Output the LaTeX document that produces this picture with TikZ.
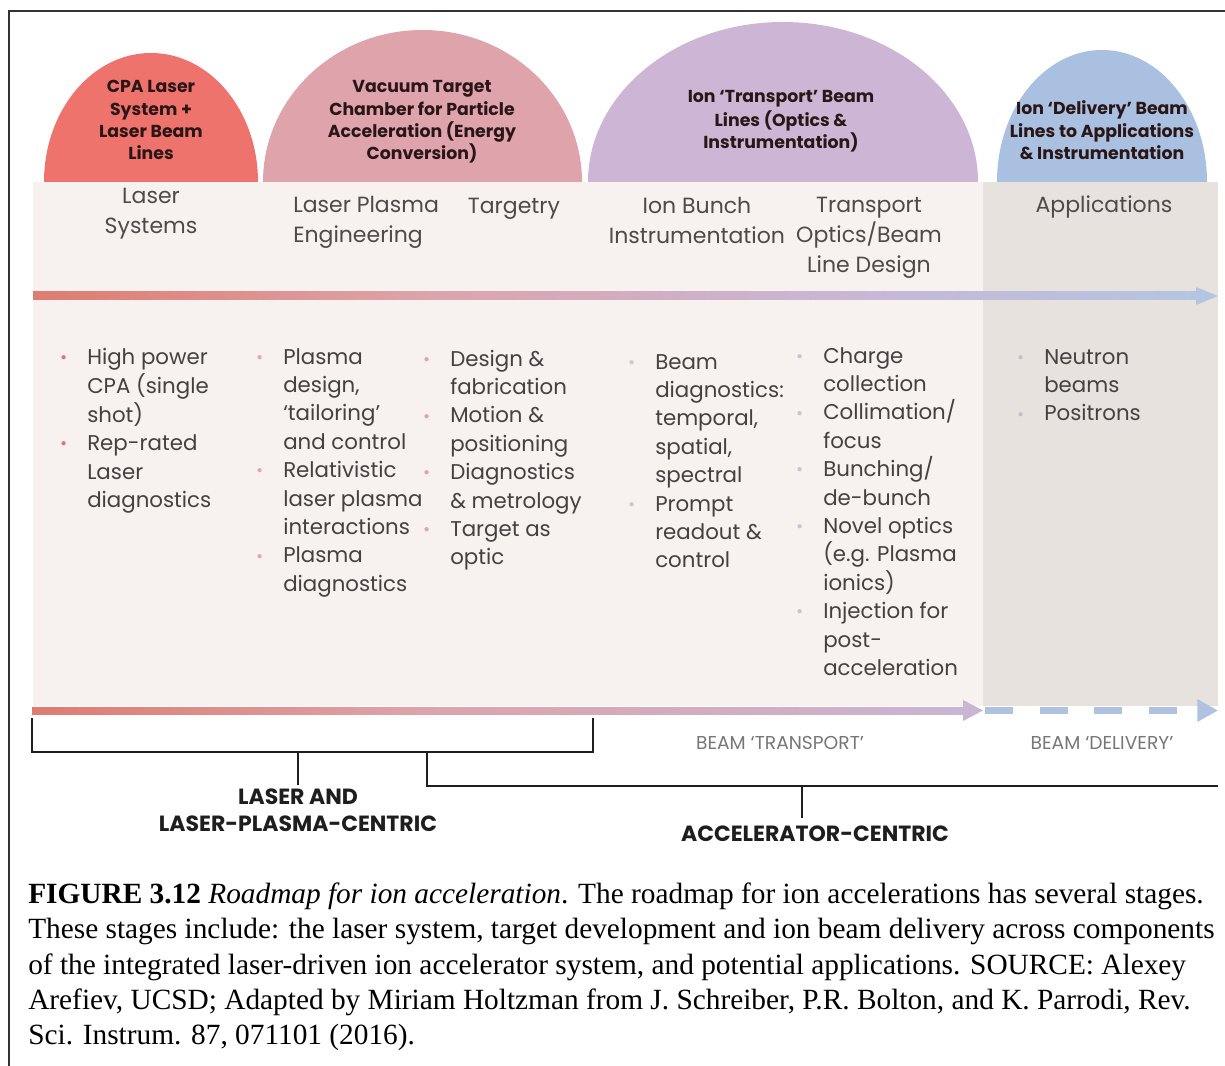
\documentclass[tikz,border=0pt]{standalone}
\usepackage{fontspec}
\setmainfont{Liberation Serif}
\newfontfamily\popp{Poppins}
\usetikzlibrary{arrows.meta,positioning}
\definecolor{domeA}{HTML}{EE736C}
\definecolor{domeB}{HTML}{DFA3AB}
\definecolor{domeC}{HTML}{CDB6D5}
\definecolor{domeD}{HTML}{A9C0E1}
\definecolor{panelpink}{HTML}{F7F1EF}
\definecolor{panelgray}{HTML}{E8E2DF}
\definecolor{beamA}{HTML}{DE7C70}
\definecolor{beamB}{HTML}{DDA3AA}
\definecolor{beamC}{HTML}{CAB5D3}
\definecolor{beamD}{HTML}{B4C5E2}
\definecolor{dashblue}{HTML}{AFC3E0}
\definecolor{headgray}{HTML}{4E4A4A}
\definecolor{bodygray}{HTML}{444141}
\definecolor{ttlink}{HTML}{2A1616}
\definecolor{framegray}{HTML}{333333}
\definecolor{lblblack}{HTML}{1E1E1E}
\definecolor{beamtxt}{HTML}{777777}
\definecolor{bulA}{HTML}{E0776D}
\definecolor{bulB}{HTML}{E6A6AC}
\definecolor{bulC}{HTML}{E0A4AC}
\definecolor{bulD}{HTML}{D2C4D2}
\definecolor{bulE}{HTML}{CFC1CF}
\definecolor{bulF}{HTML}{C2C0C8}
\newcommand{\blt}[1]{\llap{\textcolor{#1}{\raisebox{0.6pt}{\fontsize{13}{13}\selectfont\char"2022}}\hspace{15pt}}}
\tikzset{
  dometitle/.style={font=\popp\bfseries\fontsize{13}{16.7}\selectfont,text=ttlink,align=center,inner sep=0pt,anchor=north},
  colhead/.style={font=\popp\fontsize{16.5}{22.5}\selectfont,text=headgray,align=center,inner sep=0pt,anchor=north},
  itemlist/.style={font=\popp\fontsize{16}{21.3}\selectfont,text=bodygray,align=left,inner sep=0pt,anchor=north west},
  stagetag/.style={font=\popp\fontsize{14}{16}\selectfont,text=beamtxt,inner sep=0pt},
  grouplabel/.style={font=\popp\bfseries\fontsize{16.5}{20.25}\selectfont,text=lblblack,align=center,inner sep=0pt,anchor=north},
  bracket/.style={draw=lblblack,line width=1.7pt},
  delivery/.style={draw=dashblue,line width=5.2pt,dash pattern=on 21pt off 20pt,-{Triangle[length=15.5pt,width=16pt]}},
}
\begin{document}
\begin{tikzpicture}[x=0.75pt,y=-0.75pt]
  \useasboundingbox (0,0) rectangle (1225,1066);
  \fill[white] (0,0) rectangle (1225,1066);
  \draw[framegray,line width=1.1pt] (1225,11) -- (9,11) -- (9,1066);
  % stage domes, lower halves hidden by the panels
  \foreach \cx/\rx/\ry/\col in {151/107/129/domeA,422.5/159.5/152/domeB,783/195/160/domeC,1102/105/132/domeD}
    {\fill[\col] (\cx,182) ellipse [x radius=\rx, y radius=\ry];}
  \fill[panelpink] (33,182) rectangle (983,706);
  \fill[panelgray] (983,182) rectangle (1218,706);
  % upper beam bar
  \foreach \xa/\xb/\ca/\cb in {33/420/beamA/beamB,419/800/beamB/beamC,799/1199/beamC/beamD}
    {\shade[left color=\ca,right color=\cb] (\xa,292) rectangle (\xb,300);}
  \fill[beamD] (1196,287) -- (1218,296) -- (1196,305) -- cycle;
  % lower beam bar
  \foreach \xa/\xb/\ca/\cb in {32/420/beamA/beamB,419/965/beamB/beamC}
    {\shade[left color=\ca,right color=\cb] (\xa,707) rectangle (\xb,714);}
  \fill[beamC] (963,700) -- (983,710.5) -- (963,721) -- cycle;
  \draw[delivery] (985,710.5) -- (1218,710.5);

  \node[dometitle] (ttlA) at (151,77) {\strut CPA Laser\\System +\\Laser Beam\\Lines};
  \node[dometitle] (ttlB) at (422,77) {\strut Vacuum Target\\Chamber for Particle\\Acceleration (Energy\\Conversion)};
  \node[dometitle] (ttlC) at (781,87) {\strut Ion ‘Transport’ Beam\\Lines (Optics \&\\Instrumentation)};
  \node[dometitle] (ttlD) at (1102,99) {\strut Ion ‘Delivery’ Beam\\Lines to Applications\\\& Instrumentation};

  \node[colhead] (hdA) at (151,182) {\strut Laser\\Systems};
  \node[colhead,align=left,anchor=north west] (hdB) at (293,191) {\strut Laser Plasma\\Engineering};
  \node[colhead] (hdC) at (514,192) {\strut Targetry};
  \node[colhead] (hdD) at (697,192) {\strut Ion Bunch\\Instrumentation};
  \node[colhead] (hdE) at (869,191) {\strut Transport\\Optics/Beam\\Line Design};
  \node[colhead] (hdF) at (1104,191) {\strut Applications};

  \node[itemlist] (lsA) at (87,344) {\strut\blt{bulA}High power\\CPA (single\\shot)\\\blt{bulA}Rep-rated\\Laser\\diagnostics};
  \node[itemlist] (lsB) at (283,344) {\strut\blt{bulB}Plasma\\design,\\‘tailoring’\\and control\\\blt{bulB}Relativistic\\laser plasma\\interactions\\\blt{bulB}Plasma\\diagnostics};
  \node[itemlist] (lsC) at (450,346) {\strut\blt{bulC}Design \&\\fabrication\\\blt{bulC}Motion \&\\positioning\\\blt{bulC}Diagnostics\\\& metrology\\\blt{bulC}Target as\\optic};
  \node[itemlist] (lsD) at (655,349) {\strut\blt{bulD}Beam\\diagnostics:\\temporal,\\spatial,\\spectral\\\blt{bulD}Prompt\\readout \&\\control};
  \node[itemlist] (lsE) at (823,343) {\strut\blt{bulE}Charge\\collection\\\blt{bulE}Collimation/\\focus\\\blt{bulE}Bunching/\\de-bunch\\\blt{bulE}Novel optics\\(e.g. Plasma\\ionics)\\\blt{bulE}Injection for\\post-\\acceleration};
  \node[itemlist] (lsF) at (1044,344) {\strut\blt{bulF}Neutron\\beams\\\blt{bulF}Positrons};

  \node[stagetag] (tagT) at (780,743) {BEAM ‘TRANSPORT’};
  \node[stagetag] (tagD) at (1102,743) {BEAM ‘DELIVERY’};

  % grouping brackets
  \node[grouplabel] (lblA) at (298,785) {\strut LASER AND\\LASER-PLASMA-CENTRIC};
  \node[grouplabel] (lblB) at (815,822) {\strut ACCELERATOR-CENTRIC};
  \coordinate (brA) at (298,752);
  \coordinate (brB) at (802,786);
  \draw[bracket] (32,718) |- (593,752) -- (593,718);
  \draw[bracket] (brA) -- (lblA.north);
  \draw[bracket] (427,752) |- (1218,786);
  \draw[bracket] (brB) -- ([yshift=3pt]brB |- lblB.north);

  \node[font=\fontsize{22}{26.6}\selectfont,align=left,inner sep=0pt,anchor=north west] (cap) at (28,878)
    {\strut\textbf{FIGURE 3.12} \textit{Roadmap for ion acceleration}. The roadmap for ion accelerations has several stages.\\
     These stages include: the laser system, target development and ion beam delivery across components\\
     of the integrated laser-driven ion accelerator system, and potential applications. SOURCE: Alexey\\
     Arefiev, UCSD; Adapted by Miriam Holtzman from J. Schreiber, P.R. Bolton, and K. Parrodi, Rev.\\
     Sci. Instrum. 87, 071101 (2016).};
\end{tikzpicture}
\end{document}
